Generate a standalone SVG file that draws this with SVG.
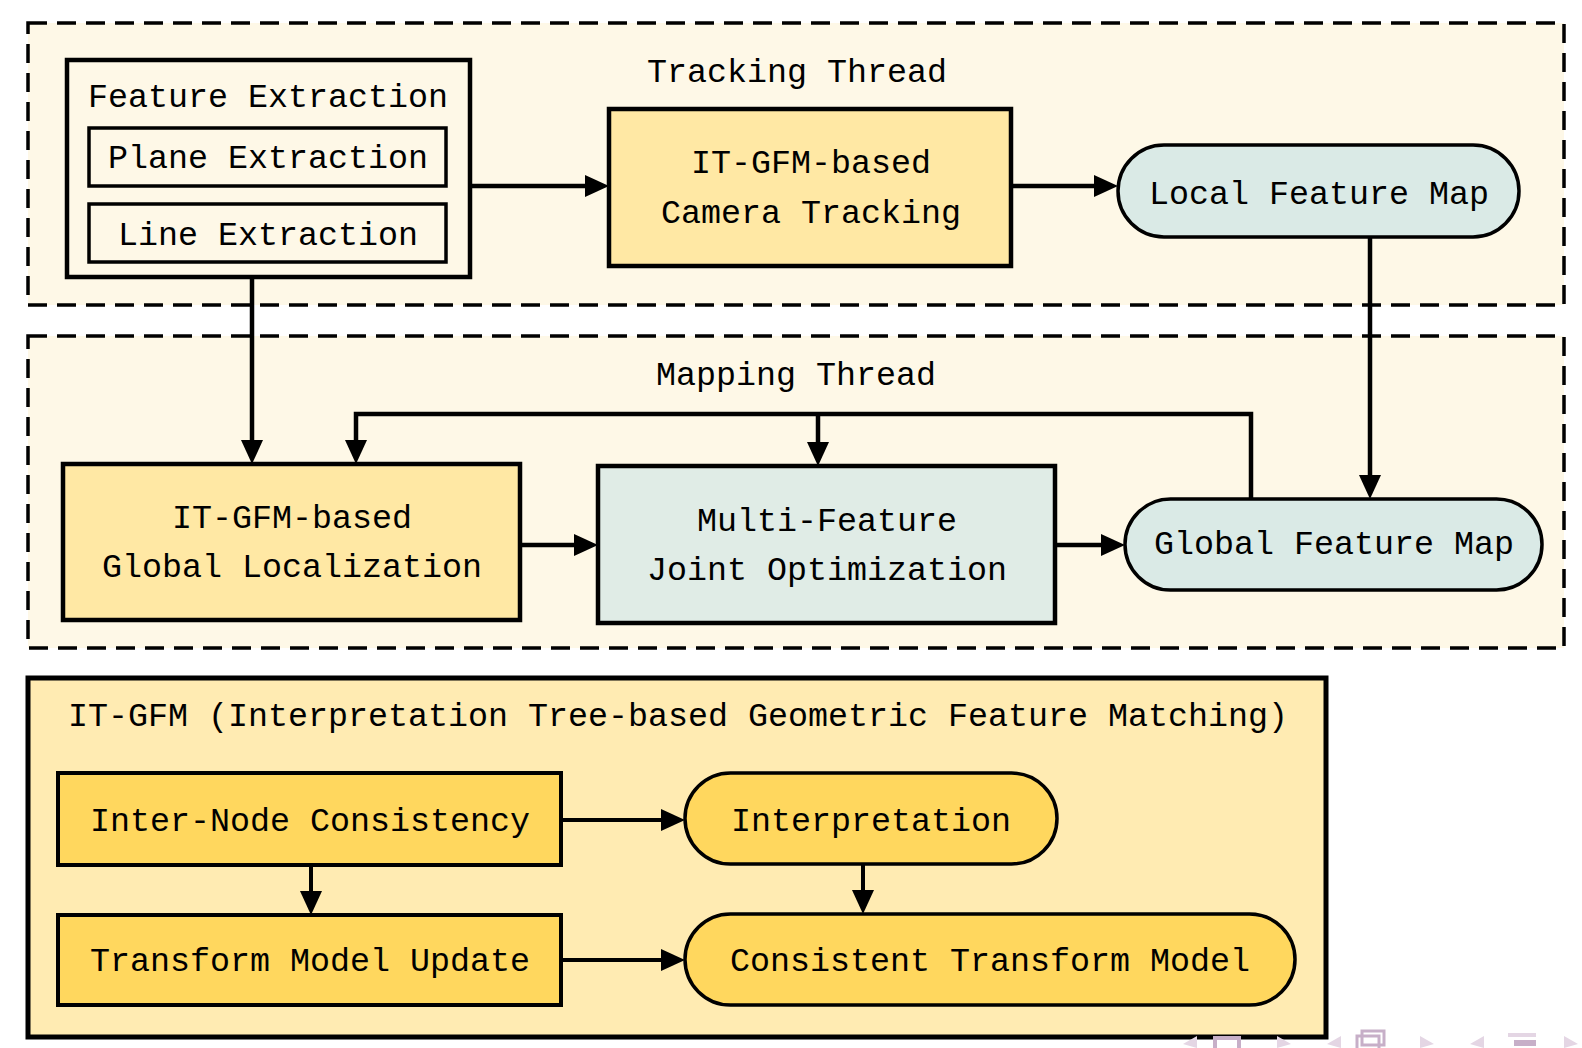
<svg xmlns="http://www.w3.org/2000/svg" width="1582" height="1048" viewBox="0 0 1582 1048">
<defs>
<style>
.thread{fill:#FEF8E7;stroke:#000;stroke-width:3.5;stroke-dasharray:19 10}
.t{font-family:"Liberation Mono","DejaVu Sans Mono",monospace;font-size:34px;fill:#000}
.box{stroke:#000;stroke-width:4.5}
.yel{fill:#FFE8A4}
.blu{fill:#E0ECE6}
.pillb{fill:#DAEAE6;stroke:#000;stroke-width:3.5}
.gold{fill:#FFD75E;stroke:#000;stroke-width:4}
.goldpill{fill:#FFD75E;stroke:#000;stroke-width:3.5}
.c{fill:none;stroke:#000;stroke-width:4.5;marker-end:url(#ah)}
.c2{fill:none;stroke:#000;stroke-width:4;marker-end:url(#ah)}
.nav{fill:#C7AFC8}
.navl{fill:#E4D6E4}
</style>
<marker id="ah" markerUnits="userSpaceOnUse" markerWidth="26" markerHeight="24" refX="0" refY="11" orient="auto" overflow="visible">
<path d="M0,0 L24,11 L0,22 z" fill="#000"/>
</marker>
</defs>
<rect width="1582" height="1048" fill="#fff"/>

<g id="tracking-thread">
<rect class="thread" x="28" y="23" width="1536" height="282"/>
<text class="t" x="647" y="82" textLength="300" lengthAdjust="spacingAndGlyphs">Tracking Thread</text>
</g>
<g id="mapping-thread">
<rect class="thread" x="28" y="336" width="1536" height="312"/>
<text class="t" x="656" y="385" textLength="280" lengthAdjust="spacingAndGlyphs">Mapping Thread</text>
</g>

<g id="feature-extraction">
<rect x="67" y="60" width="403" height="217" fill="#FEF8E7" stroke="#000" stroke-width="4.5"/>
<text class="t" x="88" y="107" textLength="360" lengthAdjust="spacingAndGlyphs">Feature Extraction</text>
</g>
<g id="plane-extraction">
<rect x="89" y="128" width="357" height="58" fill="#FEF8E7" stroke="#000" stroke-width="3.5"/>
<text class="t" x="108" y="168" textLength="320" lengthAdjust="spacingAndGlyphs">Plane Extraction</text>
</g>
<g id="line-extraction">
<rect x="89" y="204" width="357" height="58" fill="#FEF8E7" stroke="#000" stroke-width="3.5"/>
<text class="t" x="118" y="245" textLength="300" lengthAdjust="spacingAndGlyphs">Line Extraction</text>
</g>

<g id="camera-tracking">
<rect class="box yel" x="609" y="109" width="402" height="157"/>
<text class="t" x="691" y="173" textLength="240" lengthAdjust="spacingAndGlyphs">IT-GFM-based</text>
<text class="t" x="661" y="223" textLength="300" lengthAdjust="spacingAndGlyphs">Camera Tracking</text>
</g>

<g id="local-feature-map">
<rect class="pillb" x="1118" y="145" width="401" height="92" rx="46" ry="46"/>
<text class="t" x="1149" y="204" textLength="340" lengthAdjust="spacingAndGlyphs">Local Feature Map</text>
</g>

<g id="global-localization">
<rect class="box yel" x="63" y="464" width="457" height="156"/>
<text class="t" x="172" y="528" textLength="240" lengthAdjust="spacingAndGlyphs">IT-GFM-based</text>
<text class="t" x="102" y="577" textLength="380" lengthAdjust="spacingAndGlyphs">Global Localization</text>
</g>

<g id="multi-feature">
<rect class="box blu" x="598" y="466" width="457" height="157"/>
<text class="t" x="697" y="531" textLength="260" lengthAdjust="spacingAndGlyphs">Multi-Feature</text>
<text class="t" x="647" y="580" textLength="360" lengthAdjust="spacingAndGlyphs">Joint Optimization</text>
</g>

<g id="global-feature-map">
<rect class="pillb" x="1125" y="499" width="417" height="91" rx="45.5" ry="45.5"/>
<text class="t" x="1154" y="554" textLength="360" lengthAdjust="spacingAndGlyphs">Global Feature Map</text>
</g>

<g id="it-gfm">
<rect x="28" y="678" width="1298" height="359" fill="#FFEBB2" stroke="#000" stroke-width="5"/>
<text class="t" x="68" y="726" textLength="1220" lengthAdjust="spacingAndGlyphs">IT-GFM (Interpretation Tree-based Geometric Feature Matching)</text>
</g>
<g id="inter-node">
<rect class="gold" x="58" y="773" width="503" height="92"/>
<text class="t" x="90" y="831" textLength="440" lengthAdjust="spacingAndGlyphs">Inter-Node Consistency</text>
</g>
<g id="transform-update">
<rect class="gold" x="58" y="915" width="503" height="90"/>
<text class="t" x="90" y="971" textLength="440" lengthAdjust="spacingAndGlyphs">Transform Model Update</text>
</g>
<g id="interpretation">
<rect class="goldpill" x="685" y="773" width="372" height="91" rx="45.5" ry="45.5"/>
<text class="t" x="731" y="831" textLength="280" lengthAdjust="spacingAndGlyphs">Interpretation</text>
</g>
<g id="consistent-model">
<rect class="goldpill" x="685" y="914" width="610" height="91" rx="45.5" ry="45.5"/>
<text class="t" x="730" y="971" textLength="520" lengthAdjust="spacingAndGlyphs">Consistent Transform Model</text>
</g>

<g id="connectors">
<path class="c" d="M470,186 H585"/>
<path class="c" d="M1011,186 H1094"/>
<path class="c" d="M1370,237 V475"/>
<path class="c" d="M252,277 V440"/>
<path class="c" d="M1251,499 V414 H356 V440"/>
<path class="c" d="M818,414 V442"/>
<path class="c" d="M520,545 H574"/>
<path class="c" d="M1055,545 H1101"/>
<path class="c2" d="M561,820 H661"/>
<path class="c2" d="M561,960 H661"/>
<path class="c2" d="M311,865 V891"/>
<path class="c2" d="M863,864 V890"/>
</g>

<g id="navigation">
<path class="navl" d="M1197,1036 L1183,1044 L1197,1048 z"/>
<rect x="1215" y="1038" width="24" height="14" fill="none" stroke="#C7AFC8" stroke-width="4"/>
<path class="navl" d="M1277,1036 L1291,1044 L1277,1048 z"/>
<path class="navl" d="M1341,1036 L1327,1044 L1341,1048 z"/>
<rect x="1362" y="1031" width="22" height="14" fill="none" stroke="#C7AFC8" stroke-width="3"/>
<rect x="1357" y="1036" width="22" height="14" fill="none" stroke="#C7AFC8" stroke-width="3"/>
<path class="navl" d="M1420,1036 L1434,1044 L1420,1048 z"/>
<path class="navl" d="M1484,1036 L1470,1044 L1484,1048 z"/>
<rect class="navl" x="1508" y="1033" width="28" height="4"/>
<rect class="nav" x="1514" y="1040" width="22" height="6"/>
<path class="navl" d="M1564,1036 L1578,1044 L1564,1048 z"/>
</g>
</svg>
